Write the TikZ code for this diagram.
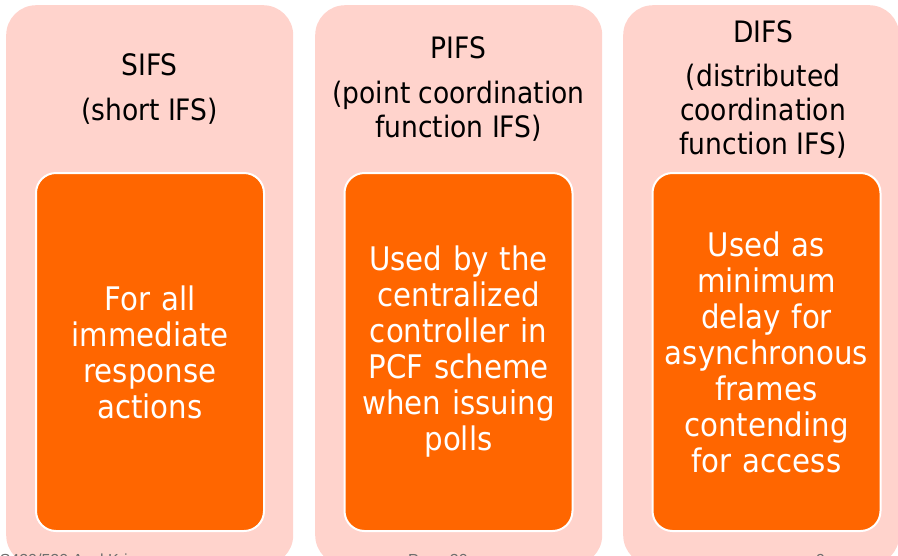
\documentclass[tikz,border=0pt]{standalone}
\usepackage{fontspec}
\setmainfont[FakeStretch=0.9]{DejaVu Sans}
\newfontfamily\footfont{Liberation Sans}
\definecolor{panelpink}{HTML}{FFD3CC}
\definecolor{boxorange}{HTML}{FF6600}
\definecolor{footgray}{HTML}{6E6E6E}
\begin{document}
\begin{tikzpicture}[x=1pt,y=-1pt,
  panel/.style={fill=panelpink, rounded corners=30pt, anchor=north west,
    minimum height=560pt, inner sep=0pt},
  ifsbox/.style={fill=boxorange, draw=white, line width=2pt, rounded corners=20pt,
    anchor=north west, minimum width=228pt, minimum height=358pt,
    text=white, align=center, text width=220pt, inner sep=0pt,
    font=\fontsize{32.5}{36}\selectfont},
  title/.style={align=center, text=black, inner sep=0pt,
    font=\fontsize{29.5}{34}\selectfont},
  foot/.style={text=footgray, anchor=base west, inner sep=0pt,
    font=\footfont\fontsize{16}{18}\selectfont}]
\useasboundingbox (0,0) rectangle (898,555);
\clip (0,0) rectangle (898,555);

% background panels
\node[panel, minimum width=287pt] (p1) at (6,5) {};
\node[panel, minimum width=287pt] (p2) at (315,5) {};
\node[panel, minimum width=276pt] (p3) at (623,5) {};

% panel headings
\node[title] (t1) at (149.5,89) {SIFS\\[11pt](short IFS)};
\node[title] (t2) at (458.5,89) {PIFS\\[11pt](point coordination\\function IFS)};
\node[title] (t3) at (763,89) {DIFS\\[10pt](distributed\\coordination\\function IFS)};

% descriptions
\node[ifsbox] (b1) at (35,172) {For all\\immediate\\response\\actions};
\node[ifsbox] (b2) at (343.5,172) {Used by the\\centralized\\controller in\\PCF scheme\\when issuing\\polls};
\node[ifsbox] (b3) at (651.5,172) {Used as\\minimum\\delay for\\asynchronous\\frames\\contending\\for access};

% slide footer
\node[foot] (f1) at (-12,565) {CS420/520 Axel Krings};
\node[foot] (f2) at (408,565) {Page 30};
\node[foot] (f3) at (816,565) {9};
\end{tikzpicture}
\end{document}
